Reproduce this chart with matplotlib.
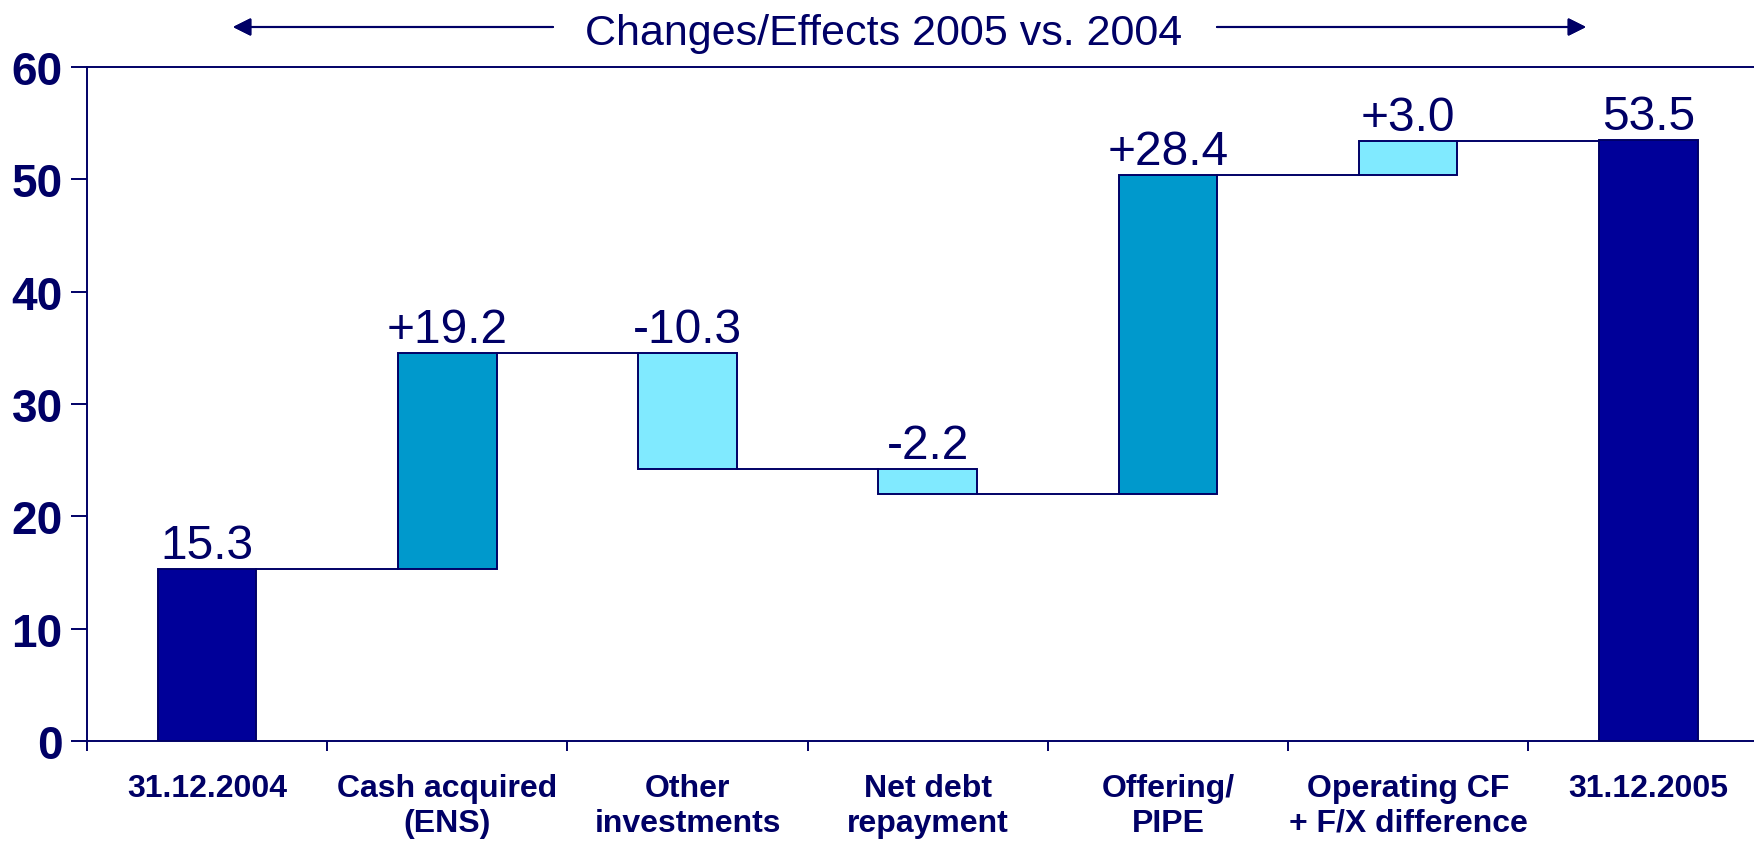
import matplotlib
matplotlib.use("Agg")
import matplotlib.pyplot as plt
import numpy as np

plt.rcParams['font.family'] = ['Liberation Sans', 'DejaVu Sans']

# net cash bridge 2004 -> 2005 (EUR m)
steps = ['31.12.2004', 'Cash acquired\n(ENS)', 'Other\ninvestments', 'Net debt\nrepayment',
         'Offering/\nPIPE', 'Operating CF\n+ F/X difference', '31.12.2005']
values = [15.3, 19.2, -10.3, -2.2, 28.4, 3.0, 53.5]
is_total = [True, False, False, False, False, False, True]
value_text = ['15.3', '+19.2', '-10.3', '-2.2', '+28.4', '+3.0', '53.5']
bar_colors = ['#000099', '#0099CC', '#80EAFF', '#80EAFF', '#0099CC', '#80EAFF', '#000099']
yticks = [0, 10, 20, 30, 40, 50, 60]

navy = '#000066'
W, H = 1754, 845

fig = plt.figure(figsize=(W / 100, H / 100), dpi=100)
ax = fig.add_axes([87 / W, 1 - 742 / H, 1 - 87 / W, (742 - 68) / H])

x = np.arange(len(steps))
width = 0.41

bottoms, heights, levels = [], [], []
run = 0.0
for v, tot in zip(values, is_total):
    if tot:
        bottoms.append(0.0)
        heights.append(v)
        run = v
    else:
        bottoms.append(min(run, run + v))
        heights.append(abs(v))
        run = run + v
    levels.append(run)

ax.bar(x, heights, width, bottom=bottoms, color=bar_colors,
       edgecolor=navy, linewidth=1.4, zorder=3)

# connectors between neighbouring bars
for i in range(len(x) - 1):
    ax.plot([x[i] + width / 2, x[i + 1] - width / 2], [levels[i], levels[i]],
            color=navy, lw=1.4, zorder=2)

for xi, b, h, t in zip(x, bottoms, heights, value_text):
    ax.annotate(t, (xi, b + h), xytext=(0, 8), textcoords='offset points',
                ha='center', va='baseline', fontsize=34.5, color=navy)

ax.set_xlim(-0.5, 6.44)
ax.set_ylim(0, 60)
ax.set_yticks(yticks)
ax.set_yticklabels([str(t) for t in yticks], fontsize=33, fontweight='bold', color=navy)
ax.tick_params(axis='y', direction='out', length=11.5, width=1.4, color=navy, pad=6)

ax.set_xticks(x)
ax.set_xticklabels(steps, fontsize=23, fontweight='bold', color=navy)
ax.set_xticks(np.arange(-0.5, 6.0, 1.0), minor=True)
ax.tick_params(axis='x', which='major', length=0, pad=23)
ax.tick_params(axis='x', which='minor', direction='out', length=7, width=1.4, color=navy)

for s in ['left', 'top', 'bottom']:
    ax.spines[s].set_color(navy)
    ax.spines[s].set_linewidth(1.4)
ax.spines['right'].set_visible(False)

# header with arrows either side
ty = 1 - 28 / H
fig.text(884 / W, 1 - 45 / H, 'Changes/Effects 2005 vs. 2004', ha='center', va='baseline',
         fontsize=31, color=navy)
arrow = dict(arrowstyle='-|>,head_length=0.4,head_width=0.2', mutation_scale=27,
             color=navy, lw=1.5, shrinkA=0, shrinkB=0)
fig.add_artist(plt.annotate('', xy=(233 / W, ty), xytext=(553 / W, ty),
                            xycoords='figure fraction', arrowprops=arrow))
fig.add_artist(plt.annotate('', xy=(1586 / W, ty), xytext=(1217 / W, ty),
                            xycoords='figure fraction', arrowprops=arrow))

fig.savefig('out.png', dpi=100)
